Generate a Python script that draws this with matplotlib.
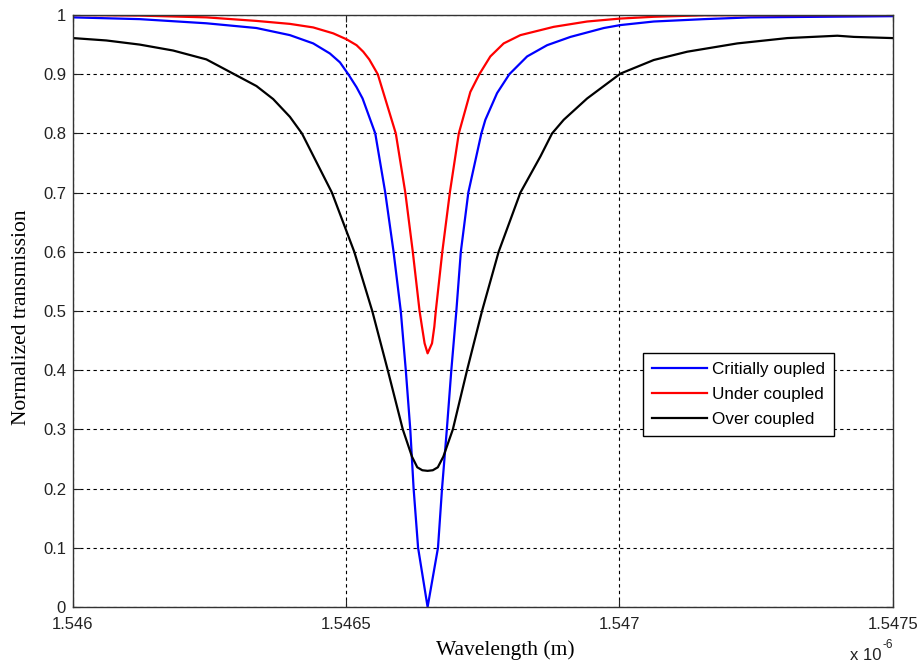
import matplotlib
matplotlib.use("Agg")
import matplotlib.pyplot as plt
from matplotlib.ticker import FixedLocator, FixedFormatter

# Wavelength values in units of 1e-6 m, transmission normalized
crit_wl = [1.5460000, 1.5461222, 1.5462441, 1.5463357, 1.5463969, 1.5464396,
           1.5464701, 1.5464885, 1.5465037, 1.5465189, 1.5465299, 1.5465531,
           1.5465714, 1.5465866, 1.5465998, 1.5466090, 1.5466172, 1.5466233,
           1.5466315, 1.5466489, 1.5466679, 1.5466753, 1.5466841, 1.5466923,
           1.5467015, 1.5467097, 1.5467234, 1.5467473, 1.5467546, 1.5467760,
           1.5467985, 1.5468310, 1.5468676, 1.5469103, 1.5469713, 1.5470018,
           1.5470628, 1.5471544, 1.5472399, 1.5475000]
crit_T = [0.996, 0.993, 0.986, 0.978, 0.966, 0.952,
          0.935, 0.920, 0.900, 0.878, 0.859, 0.800,
          0.700, 0.600, 0.500, 0.400, 0.300, 0.200,
          0.100, 0.000, 0.100, 0.200, 0.300, 0.400,
          0.500, 0.600, 0.700, 0.800, 0.823, 0.868,
          0.900, 0.930, 0.949, 0.963, 0.978, 0.983,
          0.989, 0.993, 0.996, 0.998]

under_wl = [1.5460000, 1.5461222, 1.5462441, 1.5463357, 1.5463969, 1.5464396,
            1.5464762, 1.5465005, 1.5465189, 1.5465311, 1.5465421, 1.5465577,
            1.5465907, 1.5466081, 1.5466218, 1.5466342, 1.5466386, 1.5466434,
            1.5466489, 1.5466570, 1.5466612, 1.5466639, 1.5466758, 1.5466896,
            1.5467060, 1.5467271, 1.5467436, 1.5467637, 1.5467881, 1.5468187,
            1.5468797, 1.5469408, 1.5470018, 1.5470628, 1.5471544, 1.5475000]
under_T = [1.000, 0.999, 0.996, 0.990, 0.985, 0.979,
           0.969, 0.959, 0.949, 0.938, 0.925, 0.900,
           0.800, 0.700, 0.600, 0.500, 0.4735, 0.4454,
           0.4285, 0.4454, 0.4735, 0.500, 0.600, 0.700,
           0.800, 0.870, 0.900, 0.930, 0.952, 0.966,
           0.980, 0.989, 0.994, 0.997, 0.9995, 1.000]

over_wl = [1.5460000, 1.5460610, 1.5461222, 1.5461832, 1.5462441, 1.5462930,
           1.5463357, 1.5463663, 1.5463969, 1.5464189, 1.5464738,
           1.5465147, 1.5465476, 1.5465760, 1.5466035, 1.5466203, 1.5466300,
           1.5466392, 1.5466489, 1.5466584, 1.5466676, 1.5466777, 1.5466951,
           1.5467211, 1.5467485, 1.5467789, 1.5468187, 1.5468553, 1.5468767,
           1.5468980, 1.5469408, 1.5470018, 1.5470628, 1.5471240, 1.5472156,
           1.5473071, 1.5473987, 1.5474291, 1.5475000]
over_T = [0.961, 0.957, 0.950, 0.940, 0.925, 0.901,
          0.880, 0.858, 0.828, 0.800, 0.700,
          0.600, 0.500, 0.400, 0.300, 0.254, 0.236,
          0.231, 0.230, 0.231, 0.236, 0.254, 0.300,
          0.400, 0.500, 0.600, 0.700, 0.761, 0.800,
          0.823, 0.859, 0.901, 0.924, 0.938, 0.952,
          0.961, 0.965, 0.963, 0.961]

series_labels = ["Critially oupled", "Under coupled", "Over coupled"]
x_ticks = [1.546, 1.5465, 1.547, 1.5475]
x_tick_labels = ["1.546", "1.5465", "1.547", "1.5475"]
y_ticks = [0, 0.1, 0.2, 0.3, 0.4, 0.5, 0.6, 0.7, 0.8, 0.9, 1.0]
y_tick_labels = ["0", "0.1", "0.2", "0.3", "0.4", "0.5", "0.6", "0.7", "0.8", "0.9", "1"]

SANS = ["Liberation Sans", "DejaVu Sans"]
SERIF = ["Liberation Serif", "DejaVu Serif"]

W, H = 922, 666
fig = plt.figure(figsize=(W / 100, H / 100), dpi=100)
fig.patch.set_facecolor("white")
left, right, top, bottom = 73, 892.7, 15, 607
ax = fig.add_axes([left / W, 1 - bottom / H, (right - left) / W, (bottom - top) / H])

ax.plot(crit_wl, crit_T, color=(0, 0, 1), lw=1.6, label=series_labels[0])
ax.plot(under_wl, under_T, color=(1, 0, 0), lw=1.6, label=series_labels[1])
ax.plot(over_wl, over_T, color="black", lw=1.6, label=series_labels[2])

ax.set_xlim(1.546, 1.5475)
ax.set_ylim(0, 1)
ax.xaxis.set_major_locator(FixedLocator(x_ticks))
ax.xaxis.set_major_formatter(FixedFormatter(x_tick_labels))
ax.yaxis.set_major_locator(FixedLocator(y_ticks))
ax.yaxis.set_major_formatter(FixedFormatter(y_tick_labels))

ax.grid(True, color="black", linestyle=(0, (3, 3)), linewidth=0.8)
ax.set_axisbelow(True)
ax.tick_params(direction="in", length=5, width=0.8, top=True, right=True,
               labelsize=12, colors="#222222")
ax.tick_params(axis="x", pad=7)
ax.tick_params(axis="y", pad=5)
for lab in ax.get_xticklabels() + ax.get_yticklabels():
    lab.set_family(SANS)
for sp in ax.spines.values():
    sp.set_color("#333333")
    sp.set_linewidth(1.0)

ax.set_xlabel("Wavelength (m)", family=SERIF, fontsize=15.5)
ax.xaxis.set_label_coords((505 - left) / (right - left), -(650 - bottom) / (bottom - top),
                          transform=ax.transAxes)
ax.xaxis.label.set_va("center")
ax.set_ylabel("Normalized transmission", family=SERIF, fontsize=15.5)
ax.yaxis.set_label_coords(-(left - 22) / (right - left), (bottom - 317) / (bottom - top),
                          transform=ax.transAxes)
ax.yaxis.label.set_va("center")

fig.text(850 / W, 1 - 655 / H, "x 10", fontsize=12, family=SANS, color="#222222",
         va="center", ha="left")
fig.text(882 / W, 1 - 645 / H, "-6", fontsize=8.5, family=SANS, color="#222222",
         va="center", ha="left")

leg = ax.legend(loc="upper left", bbox_to_anchor=(643.3 / W, 1 - 353.3 / H),
                bbox_transform=fig.transFigure, borderaxespad=0, fancybox=False,
                framealpha=1, edgecolor="black", prop={"family": SANS, "size": 12.3},
                handlelength=3.2, handletextpad=0.35, labelspacing=0.6, borderpad=0.5)
leg.get_frame().set_linewidth(1.0)

fig.savefig("out.png", dpi=100, facecolor="white")
